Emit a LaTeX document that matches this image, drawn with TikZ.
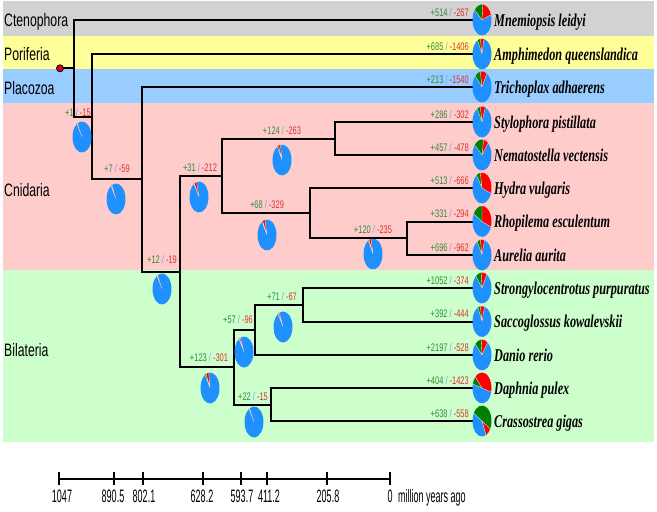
\documentclass[tikz,border=0pt]{standalone}
\usepackage{fontspec}
\setmainfont{Liberation Serif}
\newfontfamily\arialf{Liberation Sans}
\usepackage{graphicx}
\definecolor{bandgray}{RGB}{210,210,210}
\definecolor{bandyellow}{RGB}{255,255,153}
\definecolor{bandblue}{RGB}{153,204,255}
\definecolor{bandpink}{RGB}{255,204,204}
\definecolor{bandgreen}{RGB}{204,255,204}
\definecolor{piegreen}{RGB}{0,128,0}
\definecolor{piered}{RGB}{255,0,0}
\definecolor{pieblue}{RGB}{30,144,255}
\definecolor{gaincol}{RGB}{50,140,60}
\definecolor{losscol}{RGB}{220,50,50}
\definecolor{slashcol}{RGB}{130,150,210}
\definecolor{rootred}{RGB}{230,0,20}
\newcommand\sx[1]{\scalebox{0.68}[1]{#1}}
\newcommand\gl[2]{\sx{\textcolor{gaincol}{+#1} \textcolor{slashcol}{/} \textcolor{losscol}{-#2}}}
\newcommand\mypie[4]{%
 \fill[pieblue] (#1) -- ++(#4:9.5pt and 15.5pt) arc[start angle=#4, end angle=#2-360, x radius=9.5pt, y radius=15.5pt] -- cycle;
 \fill[piegreen] (#1) -- ++(#2:9.5pt and 15.5pt) arc[start angle=#2, end angle=#3, x radius=9.5pt, y radius=15.5pt] -- cycle;
 \fill[piered] (#1) -- ++(#3:9.5pt and 15.5pt) arc[start angle=#3, end angle=#4, x radius=9.5pt, y radius=15.5pt] -- cycle;
 \draw[pieline] (#1) -- ++(#2:9.5pt and 15.5pt) (#1) -- ++(#3:9.5pt and 15.5pt) (#1) -- ++(#4:9.5pt and 15.5pt);
}
\begin{document}
\begin{tikzpicture}[x=1pt,y=-1pt,
 tree/.style={line width=2pt, line cap=rect},
 species/.style={font=\fontsize{18}{20}\selectfont\bfseries\itshape, inner sep=0, anchor=base west},
 grp/.style={font=\arialf\fontsize{18}{20}\selectfont, inner sep=0, anchor=base west},
 num/.style={font=\arialf\fontsize{11}{12}\selectfont, inner sep=0},
 axlab/.style={font=\arialf\fontsize{18}{20}\selectfont, inner sep=0, anchor=base},
 pieline/.style={draw=white, line width=0.35pt, opacity=0.8},
 axisline/.style={line width=1.4pt},
]
\useasboundingbox (0,0) rectangle (657,512);
% bands
\fill[bandgray] (3,1) rectangle (654,36);
\fill[bandyellow] (3,36) rectangle (654,69);
\fill[bandblue] (3,69) rectangle (654,103);
\fill[bandpink] (3,103) rectangle (654,270);
\fill[bandgreen] (3,270) rectangle (654,442);
% group labels
\node[grp] (gcten) at (4,26.5) {\sx{Ctenophora}};
\node[grp] (gpor) at (4,60.5) {\sx{Poriferia}};
\node[grp] (gplac) at (4,94.5) {\sx{Placozoa}};
\node[grp] (gcni) at (4,196.5) {\sx{Cnidaria}};
\node[grp] (gbil) at (4,356.5) {\sx{Bilateria}};
% tips
\coordinate (t1) at (472,20);
\coordinate (t2) at (472,54);
\coordinate (t3) at (472,87);
\coordinate (t4) at (472,122);
\coordinate (t5) at (472,155);
\coordinate (t6) at (472,188);
\coordinate (t7) at (472,221.5);
\coordinate (t8) at (472,255);
\coordinate (t9) at (472,288);
\coordinate (t10) at (472,321.5);
\coordinate (t11) at (472,355);
\coordinate (t12) at (472,388);
\coordinate (t13) at (472,421);
% internal nodes
\coordinate (root) at (74,68.3);
\coordinate (nA) at (92,116.6);
\coordinate (nC) at (142,179.25);
\coordinate (nD) at (180,271.5);
\coordinate (nE) at (222,175.8);
\coordinate (nF) at (335,138.5);
\coordinate (nG) at (310,213.1);
\coordinate (nH) at (407,238.25);
\coordinate (nI) at (234,367.2);
\coordinate (nJ) at (255,329.9);
\coordinate (nK) at (303,304.75);
\coordinate (nL) at (271,404.5);
% tree
\node[circle, fill=rootred, draw=black, line width=0.8pt, minimum size=7pt, inner sep=0] (rootdot) at (60,68.3) {};
\draw[tree] (rootdot) -- (root);
\draw[tree] (root) |- (t1);
\draw[tree] (root) |- (nA);
\draw[tree] (nA) |- (t2);
\draw[tree] (nA) |- (nC);
\draw[tree] (nC) |- (t3);
\draw[tree] (nC) |- (nD);
\draw[tree] (nD) |- (nE);
\draw[tree] (nD) |- (nI);
\draw[tree] (nE) |- (nF);
\draw[tree] (nE) |- (nG);
\draw[tree] (nF) |- (t4);
\draw[tree] (nF) |- (t5);
\draw[tree] (nG) |- (t6);
\draw[tree] (nG) |- (nH);
\draw[tree] (nH) |- (t7);
\draw[tree] (nH) |- (t8);
\draw[tree] (nI) |- (nJ);
\draw[tree] (nI) |- (nL);
\draw[tree] (nJ) |- (nK);
\draw[tree] (nJ) |- (t11);
\draw[tree] (nK) |- (t9);
\draw[tree] (nK) |- (t10);
\draw[tree] (nL) |- (t12);
\draw[tree] (nL) |- (t13);
% tip pies
\coordinate (p1) at (482,20);
\coordinate (p2) at (482,54);
\coordinate (p3) at (482,87);
\coordinate (p4) at (482,122);
\coordinate (p5) at (482,155);
\coordinate (p6) at (482,188);
\coordinate (p7) at (482,221.5);
\coordinate (p8) at (482,255);
\coordinate (p9) at (482,288);
\coordinate (p10) at (482,321.5);
\coordinate (p11) at (482,355);
\coordinate (p12) at (482,388);
\coordinate (p13) at (482,421);
\mypie{p1}{140}{85}{20}
\mypie{p2}{118}{100}{78}
\mypie{p3}{135}{100}{60}
\mypie{p4}{120}{100}{70}
\mypie{p5}{140}{80}{50}
\mypie{p6}{125}{100}{-20}
\mypie{p7}{150}{90}{-20}
\mypie{p8}{120}{100}{75}
\mypie{p9}{130}{95}{60}
\mypie{p10}{115}{100}{75}
\mypie{p11}{135}{95}{55}
\mypie{p12}{165}{135}{-15}
\mypie{p13}{150}{-30}{-65}
% internal pies
\coordinate (qA) at (82,137);
\coordinate (qC) at (116,199);
\coordinate (qD) at (162,289);
\coordinate (qE) at (199,197);
\coordinate (qF) at (282,160);
\coordinate (qG) at (267,235);
\coordinate (qH) at (373,254);
\coordinate (qI) at (210,388);
\coordinate (qJ) at (244,352);
\coordinate (qK) at (283,327);
\coordinate (qL) at (254,422);
\mypie{qA}{122}{121}{119}
\mypie{qC}{122}{121}{116}
\mypie{qD}{122}{121}{118}
\mypie{qE}{122}{119}{105}
\mypie{qF}{120}{112}{100}
\mypie{qG}{122}{117}{103}
\mypie{qH}{120}{114}{102}
\mypie{qI}{122}{114}{98}
\mypie{qJ}{122}{120}{113}
\mypie{qK}{122}{120}{113}
\mypie{qL}{122}{121}{118}
% internal branch labels
\node[num, anchor=base] (lA) at (78,116) {\gl{1}{15}};
\node[num, anchor=base] (lC) at (117,172) {\gl{7}{59}};
\node[num, anchor=base] (lD) at (162,263) {\gl{12}{19}};
\node[num, anchor=base] (lE) at (200,171) {\gl{31}{212}};
\node[num, anchor=base] (lF) at (282,134) {\gl{124}{263}};
\node[num, anchor=base] (lG) at (267,208) {\gl{68}{329}};
\node[num, anchor=base] (lH) at (373,233) {\gl{120}{235}};
\node[num, anchor=base] (lI) at (209,361) {\gl{123}{301}};
\node[num, anchor=base] (lJ) at (238,323) {\gl{57}{96}};
\node[num, anchor=base] (lK) at (282,300) {\gl{71}{67}};
\node[num, anchor=base] (lL) at (253,400) {\gl{22}{15}};
% tip numbers
\node[num, anchor=base east] (n1) at (469,16) {\gl{514}{267}};
\node[num, anchor=base east] (n2) at (469,50) {\gl{685}{1406}};
\node[num, anchor=base east] (n3) at (469,83) {\gl{213}{1540}};
\node[num, anchor=base east] (n4) at (469,118) {\gl{286}{302}};
\node[num, anchor=base east] (n5) at (469,151) {\gl{457}{478}};
\node[num, anchor=base east] (n6) at (469,184) {\gl{513}{666}};
\node[num, anchor=base east] (n7) at (469,217.5) {\gl{331}{294}};
\node[num, anchor=base east] (n8) at (469,251) {\gl{696}{962}};
\node[num, anchor=base east] (n9) at (469,284) {\gl{1052}{374}};
\node[num, anchor=base east] (n10) at (469,317.5) {\gl{392}{444}};
\node[num, anchor=base east] (n11) at (469,351) {\gl{2197}{528}};
\node[num, anchor=base east] (n12) at (469,384) {\gl{404}{1423}};
\node[num, anchor=base east] (n13) at (469,417) {\gl{638}{558}};
% species
\node[species] (s1) at (494,26) {\sx{Mnemiopsis leidyi}};
\node[species] (s2) at (494,60) {\sx{Amphimedon queenslandica}};
\node[species] (s3) at (494,93) {\sx{Trichoplax adhaerens}};
\node[species] (s4) at (494,128) {\sx{Stylophora pistillata}};
\node[species] (s5) at (494,161) {\sx{Nematostella vectensis}};
\node[species] (s6) at (494,194) {\sx{Hydra vulgaris}};
\node[species] (s7) at (494,227.5) {\sx{Rhopilema esculentum}};
\node[species] (s8) at (494,261) {\sx{Aurelia aurita}};
\node[species] (s9) at (494,294) {\sx{Strongylocentrotus purpuratus}};
\node[species] (s10) at (494,327.5) {\sx{Saccoglossus kowalevskii}};
\node[species] (s11) at (494,361) {\sx{Danio rerio}};
\node[species] (s12) at (494,394) {\sx{Daphnia pulex}};
\node[species] (s13) at (494,427) {\sx{Crassostrea gigas}};
% time axis
\coordinate (a0) at (59,479);
\coordinate (a1) at (114,479);
\coordinate (a2) at (143,479);
\coordinate (a3) at (203,479);
\coordinate (a4) at (241,479);
\coordinate (a5) at (267,479);
\coordinate (a6) at (327,479);
\coordinate (a7) at (390,479);
\draw[axisline] (a0) -- (a7);
\foreach \k in {0,...,7} {\draw[axisline] (a\k) ++(0,-7) -- ++(0,13);}
\newcommand\ax[1]{\scalebox{0.5}[1]{#1}}
\node[axlab] (x0) at (62,502) {\ax{1047}};
\node[axlab] (x1) at (113,502) {\ax{890.5}};
\node[axlab] (x2) at (144,502) {\ax{802.1}};
\node[axlab] (x3) at (202,502) {\ax{628.2}};
\node[axlab] (x4) at (242,502) {\ax{593.7}};
\node[axlab] (x5) at (269,502) {\ax{411.2}};
\node[axlab] (x6) at (328,502) {\ax{205.8}};
\node[axlab] (x7) at (390,502) {\ax{0}};
\node[axlab, anchor=base west] (xl) at (398,502) {\ax{million years ago}};
\end{tikzpicture}
\end{document}
